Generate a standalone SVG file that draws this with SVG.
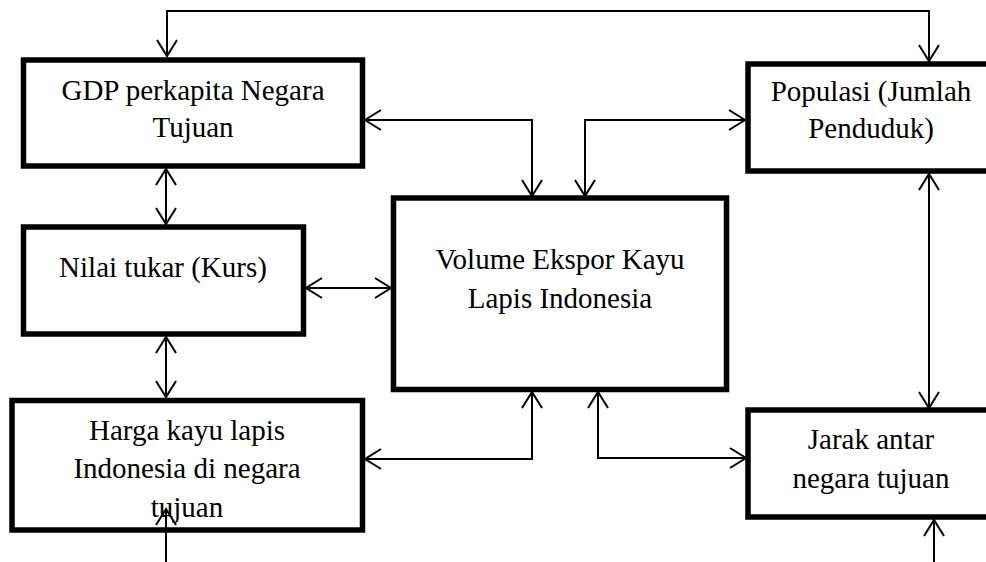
<svg xmlns="http://www.w3.org/2000/svg" width="986" height="562" viewBox="0 0 986 562">
<style>
.box{fill:#fff;stroke:#000;stroke-width:5.5}
.t{font-family:"Liberation Serif","Times New Roman",serif;font-size:29px;fill:#000;text-anchor:middle}
.c{fill:none;stroke:#000;stroke-width:2}
.a{marker-end:url(#ah)}
.b{marker-start:url(#ah);marker-end:url(#ah)}
</style>
<defs>
<marker id="ah" markerUnits="userSpaceOnUse" viewBox="-18 -12 20 24" refX="0" refY="0" markerWidth="20" markerHeight="24" orient="auto-start-reverse" overflow="visible">
<path d="M-16,-10 L0,0 L-16,10" fill="none" stroke="#000" stroke-width="2"/>
</marker>
</defs>
<rect width="986" height="562" fill="#fff"/>
<g id="gdp">
<rect class="box" x="23.5" y="60" width="339" height="106"/>
<text class="t" x="193" y="100">GDP perkapita Negara</text>
<text class="t" x="193" y="137">Tujuan</text>
</g>
<g id="nilai">
<rect class="box" x="23.5" y="227" width="280" height="107"/>
<text class="t" x="163" y="277">Nilai tukar (Kurs)</text>
</g>
<g id="harga">
<rect class="box" x="12" y="400.5" width="350.5" height="129.5"/>
<text class="t" x="187" y="440">Harga kayu lapis</text>
<text class="t" x="187" y="478">Indonesia di negara</text>
<text class="t" x="187" y="517">tujuan</text>
</g>
<g id="volume">
<rect class="box" x="393.5" y="198" width="333" height="191.5"/>
<text class="t" x="560" y="269">Volume Ekspor Kayu</text>
<text class="t" x="560" y="308">Lapis Indonesia</text>
</g>
<g id="populasi">
<rect class="box" x="748" y="64" width="250" height="107"/>
<text class="t" x="871" y="101">Populasi (Jumlah</text>
<text class="t" x="871" y="138">Penduduk)</text>
</g>
<g id="jarak">
<rect class="box" x="748" y="410" width="250" height="107"/>
<text class="t" x="871" y="449">Jarak antar</text>
<text class="t" x="871" y="488">negara tujuan</text>
</g>
<g id="connectors">
<path class="c b" d="M167,56 L167,11 L929,11 L929,61"/>
<path class="c b" d="M365,120 L532,120 L532,196"/>
<path class="c b" d="M745,120 L585,120 L585,196"/>
<path class="c b" d="M166,169 L166,224"/>
<path class="c b" d="M306,288 L391,288"/>
<path class="c b" d="M166,337 L166,397"/>
<path class="c b" d="M365,459 L532,459 L532,392"/>
<path class="c b" d="M598,392 L598,458 L746,458"/>
<path class="c b" d="M929,174 L929,408"/>
<path class="c a" d="M166,562 L166,509"/>
<path class="c a" d="M934,562 L934,520"/>
</g>
</svg>
